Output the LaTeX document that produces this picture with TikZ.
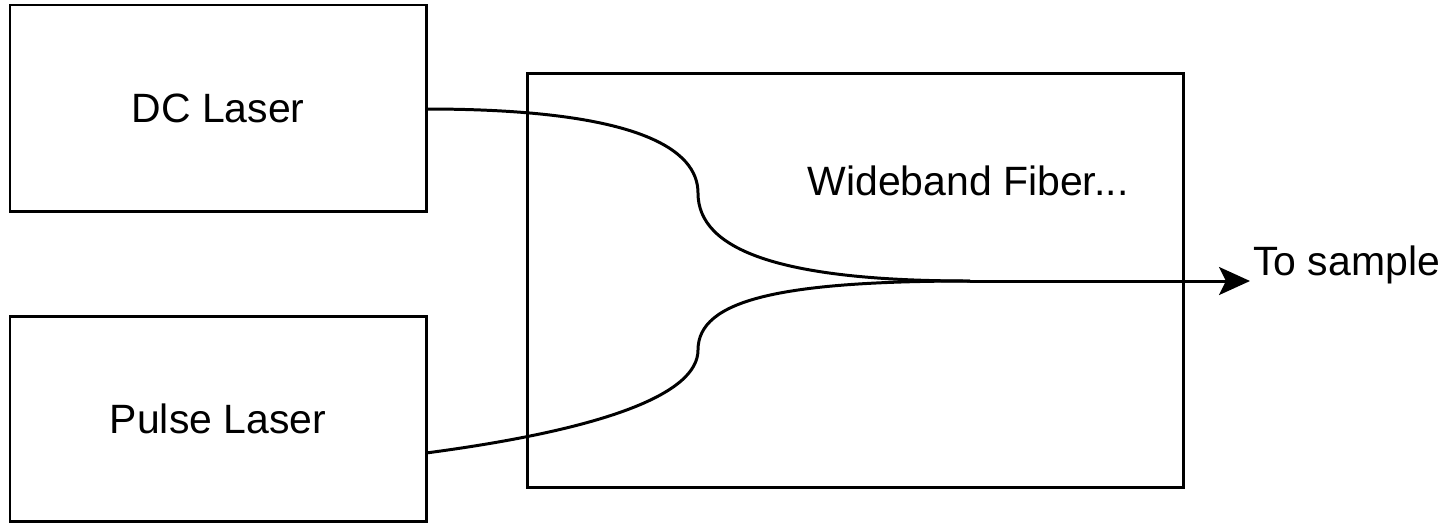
\documentclass[tikz,border=0pt]{standalone}
\usepackage{fontspec}
\setmainfont{Liberation Sans}
\usepackage{tikz}
\usetikzlibrary{arrows.meta,positioning}
\usetikzlibrary{calc}
\tikzstyle{laser} = [rectangle, draw = black, minimum width=8.32cm, minimum height=4.12cm, text centered, line width=1.7pt, outer sep=0pt]
\tikzstyle{coupler} = [rectangle, draw = black, minimum width=13.12cm, minimum height=8.28cm, line width=1.7pt, outer sep=0pt]
\tikzstyle{fiber} = [line width=1.7pt]
\tikzstyle{arrow} = [line width=1.7pt,-{Stealth[length=0.62cm, width=0.56cm, inset=0.14cm]}]

\begin{document}
\begin{tikzpicture}[every node/.style={font=\fontsize{23.3}{28}\selectfont}]
		
		\useasboundingbox (0,0) rectangle (29.02,-10.44);
		
		\node (DC) [laser] at (4.36,-2.16) {DC Laser};
		
		\node (Pulse) [laser,below = 2.1cm of DC, minimum height=4.1cm]{Pulse Laser};
		
		\node (WDM) [coupler,below right = -2.76cm and 2.02cm of DC]{};
		
		\node (WDMtext) at (19.36,-3.62) {Wideband Fiber...};
		
		\coordinate (join) at (19.4,-5.62);
		
		\coordinate (out) at (25,-5.62);
		
		\draw [fiber] ($(DC.east)+(0,-0.02)$) .. controls (12.8,-2.18) and (13.96,-3.0) .. (13.96,-3.86) .. controls (13.96,-5.0) and (15.6,-5.62) .. (join);
		
		\draw [fiber] ($(Pulse.east)+(0,-0.69)$) .. controls (12,-8.6) and (13.96,-7.9) .. (13.96,-7.0) .. controls (13.96,-6.0) and (15.6,-5.62) .. (join);
		
		\draw [arrow] (join) -- (out);
		
		\node (sample) [anchor=base west, inner sep=0pt] at (25.06,-5.5) {To sample};
		
		\end{tikzpicture}
\end{document}
